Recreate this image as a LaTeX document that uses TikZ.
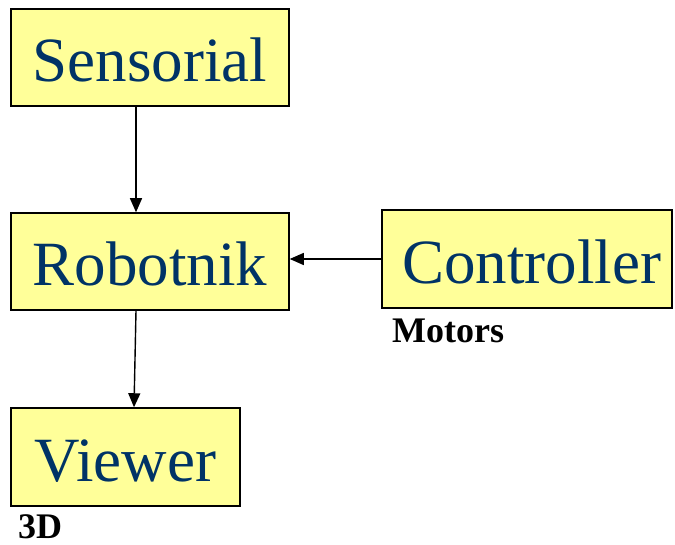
\documentclass[tikz,border=0pt]{standalone}
\usepackage{fontspec}
\setmainfont{Liberation Serif}
\usetikzlibrary{arrows.meta}
\definecolor{boxfill}{HTML}{FFFF99}
\definecolor{boxtext}{HTML}{003366}
\tikzset{
  block/.style={draw=black, line width=1.5pt, fill=boxfill, text=boxtext,
    font=\fontsize{63}{70}\selectfont, minimum height=97pt,
    text height=49pt, text depth=0pt, inner sep=0pt},
  link/.style={line width=1.4pt, -{Triangle[length=14pt,width=12pt]}},
  tag/.style={font=\bfseries\fontsize{36}{40}\selectfont, inner sep=0pt, anchor=base west}
}
\begin{document}
\begin{tikzpicture}[x=1pt,y=1pt]
  \useasboundingbox (0,0) rectangle (675,544);
  % component boxes
  \node[block, minimum width=278pt] (sens) at (150,486.5) {Sensorial};
  \node[block, minimum width=278pt] (robo) at (150,282.5) {Robotnik};
  \node[block, minimum width=290pt, minimum height=98pt] (ctrl) at (527,285) {\hspace*{9pt}Controller};
  \node[block, minimum width=229pt, minimum height=98pt] (view) at (125.5,87) {Viewer};
  % captions
  \node[tag] (motors) at (392,201) {Motors};
  \node[tag] (threed) at (18,6) {3D};
  % data flow
  \draw[link] ([xshift=-14pt]sens.south) -- ([xshift=-14pt]robo.north);
  \draw[link] (ctrl.west) -- (ctrl.west -| robo.east);
  \draw[link] ([xshift=-14pt]robo.south) -- ([xshift=8.5pt]view.north);
\end{tikzpicture}
\end{document}
